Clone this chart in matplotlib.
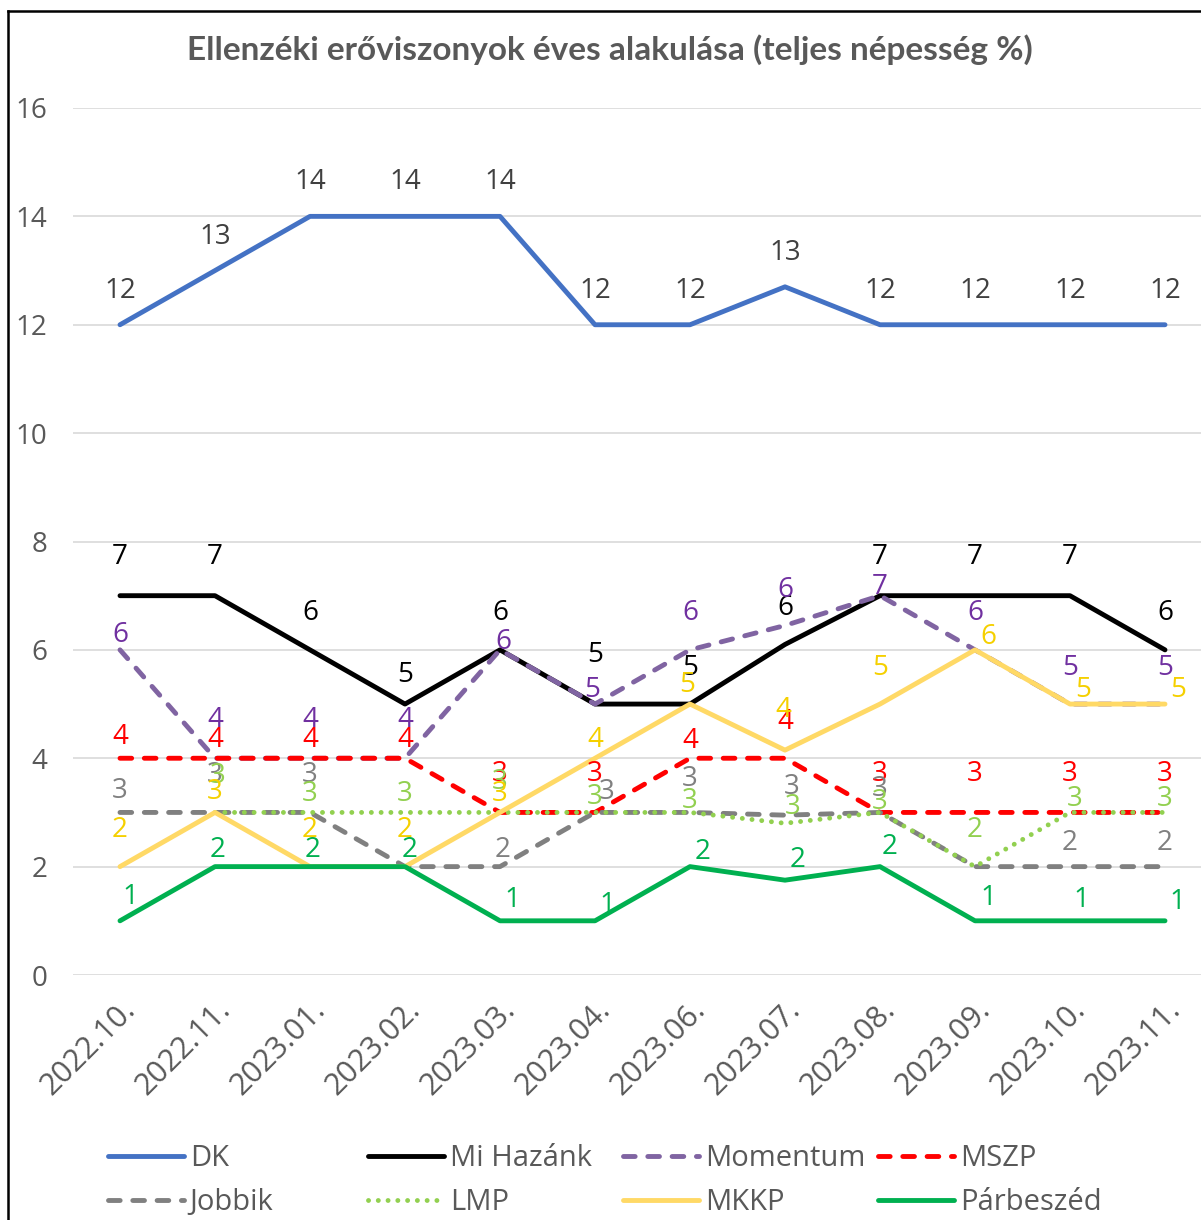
import numpy as np
import matplotlib
matplotlib.use("Agg")
import matplotlib.pyplot as plt
from matplotlib.lines import Line2D

# data
months = ["2022.10.", "2022.11.", "2023.01.", "2023.02.", "2023.03.", "2023.04.",
          "2023.06.", "2023.07.", "2023.08.", "2023.09.", "2023.10.", "2023.11."]
dk = [12, 13, 14, 14, 14, 12, 12, 12.7, 12, 12, 12, 12]
mi_hazank = [7, 7, 6, 5, 6, 5, 5, 6.1, 7, 7, 7, 6]
momentum = [6, 4, 4, 4, 6, 5, 6, 6.45, 7, 6, 5, 5]
mszp = [4, 4, 4, 4, 3, 3, 4, 4, 3, 3, 3, 3]
jobbik = [3, 3, 3, 2, 2, 3, 3, 2.95, 3, 2, 2, 2]
lmp = [np.nan, 3, 3, 3, 3, 3, 3, 2.8, 3, 2, 3, 3]
mkkp = [2, 3, 2, 2, 3, 4, 5, 4.15, 5, 6, 5, 5]
parbeszed = [1, 2, 2, 2, 1, 1, 2, 1.75, 2, 1, 1, 1]

# label offsets in pixels (dx, dy), None = label hidden
off_dk = [(0, 34)] * 12
off_mi = [(0, 39), (0, 39), (0, 37), (0, 29), (0, 37), (0, 49), (0, 36), (0, 36),
          (0, 39), (0, 39), (0, 39), (0, 37)]
off_mom = [(0, 15), (0, 38), (0, 38), (0, 38), (3, 8), (-3, 14), (0, 37), (0, 35),
           (0, 9), (0, 37), (0, 36), (0, 36)]
off_mszp = [(0, 21), (0, 18), (0, 18), (0, 18), (0, 38), (0, 38), (0, 17), (0, 36),
            (0, 38), (0, 38), (0, 38), (0, 38)]
off_jobbik = [(0, 21), (0, 37), (0, 37), None, (3, 17), (12, 20), (0, 33), (7, 28),
              (0, 23), None, (0, 24), (0, 24)]
off_lmp = [None, (3, 36), (0, 18), (0, 18), (0, 30), (0, 15), (0, 11), (8, 16),
           (0, 10), (0, 37), (5, 13), (0, 13)]
off_mkkp = [(0, 37), (0, 20), (0, 37), (0, 37), (0, 18), (0, 18), (-3, 19), (-2, 40),
            (0, 36), (13, 13), (13, 14), (13, 14)]
off_pb = [(10, 24), (3, 17), (3, 17), (5, 17), (12, 21), (12, 16), (13, 15), (13, 20),
          (10, 20), (13, 23), (11, 21), (12, 19)]

series = [
    # name, values, line colour, label colour, linestyle, offsets
    ("DK", dk, "#4472C4", "#404040", "solid", off_dk),
    ("Mi Hazánk", mi_hazank, "#000000", "#000000", "solid", off_mi),
    ("Momentum", momentum, "#8064A2", "#7030A0", "dash", off_mom),
    ("MSZP", mszp, "#FF0000", "#FF0000", "dash", off_mszp),
    ("Jobbik", jobbik, "#808080", "#808080", "dash", off_jobbik),
    ("LMP", lmp, "#92D050", "#92D050", "dot", off_lmp),
    ("MKKP", mkkp, "#FFD966", "#F5D000", "solid", off_mkkp),
    ("Párbeszéd", parbeszed, "#00B050", "#00B050", "solid", off_pb),
]

W, H = 1201, 1220
fig = plt.figure(figsize=(W / 100, H / 100), dpi=100)
ax = fig.add_axes([72.5 / W, 1 - 975 / H, 1140 / W, 867 / H])

font = "Open Sans"
txt_grey = "#595959"
lw = 3.5

x = np.arange(len(months))
handles = []
for name, vals, col, lcol, style, offs in series:
    kw = dict(color=col, lw=lw, solid_capstyle="round", dash_capstyle="round",
              solid_joinstyle="round", label=name)
    if style == "dash":
        kw["dashes"] = (2.4, 2.6)
    elif style == "dot":
        kw["dashes"] = (0.01, 2.0)
    line, = ax.plot(x, vals, **kw)
    handles.append(line)
    for i, v in enumerate(vals):
        if np.isnan(v) or offs[i] is None:
            continue
        dx, dy = offs[i]
        ax.annotate(f"{round(v):.0f}", (x[i], v), xytext=(dx, dy),
                    textcoords="offset pixels", ha="center", va="center",
                    fontsize=20, color=lcol, family=font, annotation_clip=False)

ax.set_xlim(-0.5, 11.5)
ax.set_ylim(0, 16)
ax.set_yticks(range(0, 17, 2))
ax.set_xticks(x)
ax.set_xticklabels(months, rotation=45, ha="right", va="top", rotation_mode="anchor")
ax.grid(axis="y", color="#D9D9D9", lw=1.2)
ax.set_axisbelow(True)
for s in ax.spines.values():
    s.set_visible(False)
ax.tick_params(axis="both", length=0, labelcolor=txt_grey)
ax.tick_params(axis="y", pad=18, labelsize=20)
ax.tick_params(axis="x", pad=14, labelsize=22)
for t in ax.get_xticklabels() + ax.get_yticklabels():
    t.set_family(font)

fig.text(610 / W, 1 - 50 / H, "Ellenzéki erőviszonyok éves alakulása (teljes népesség %)",
         ha="center", va="center", fontsize=24, fontweight="bold", color=txt_grey,
         family="Lato")

# legend, four columns of two rows
cols = [(0, 4), (1, 5), (2, 6), (3, 7)]
col_x = [108, 368, 623, 878]
for (a, b), cx in zip(cols, col_x):
    leg = fig.legend([handles[a], handles[b]], [series[a][0], series[b][0]],
                     loc="upper left", bbox_to_anchor=(cx / W, 1 - 1144 / H),
                     frameon=False, borderpad=0, borderaxespad=0,
                     handlelength=2.6, handletextpad=0.2, labelspacing=0.52,
                     prop={"family": font, "size": 21})
    for t in leg.get_texts():
        t.set_color(txt_grey)

# chart border (left and top visible in reference)
fig.add_artist(Line2D([8 / W, 8 / W], [0, 1 - 11 / H], color="black", lw=1.8))
fig.add_artist(Line2D([8 / W, 1], [1 - 11 / H, 1 - 11 / H], color="black", lw=1.8))

fig.savefig("out.png", dpi=100)
